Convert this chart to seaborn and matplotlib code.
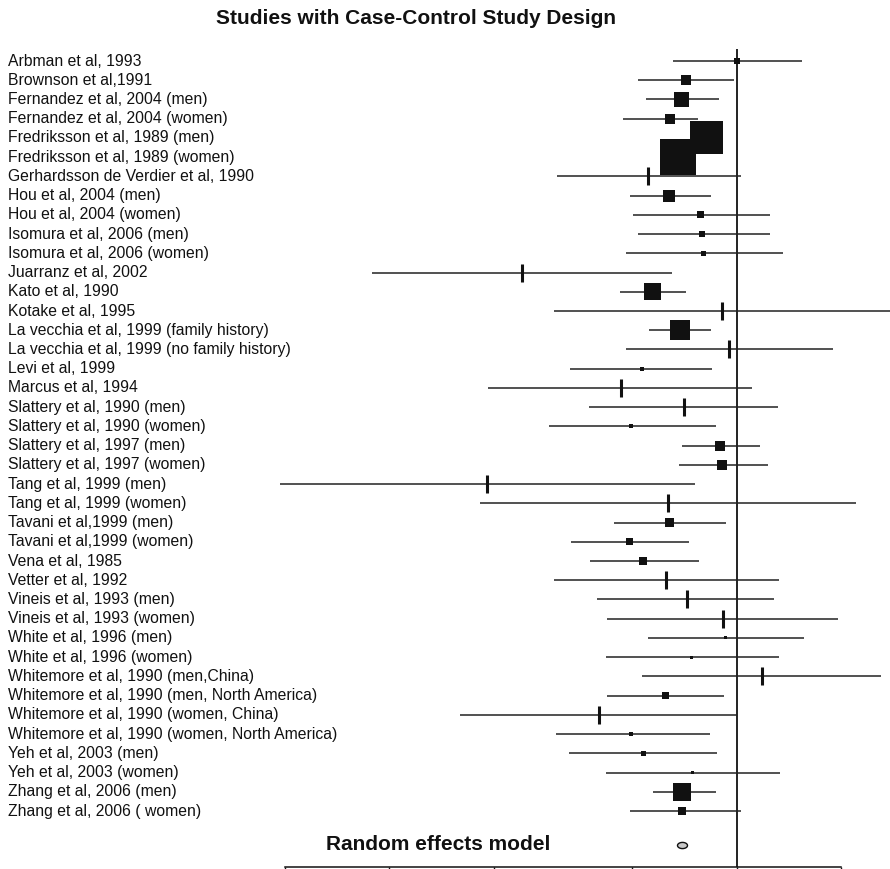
import numpy as np
import pandas as pd
import matplotlib
matplotlib.use("Agg")
from matplotlib import pyplot as plt
from matplotlib import transforms
from matplotlib.path import Path
import seaborn as sns

studies = [
    "Arbman et al, 1993",
    "Brownson et al,1991",
    "Fernandez et al, 2004 (men)",
    "Fernandez et al, 2004 (women)",
    "Fredriksson et al, 1989 (men)",
    "Fredriksson et al, 1989 (women)",
    "Gerhardsson de Verdier et al, 1990",
    "Hou et al, 2004 (men)",
    "Hou et al, 2004 (women)",
    "Isomura et al, 2006 (men)",
    "Isomura et al, 2006 (women)",
    "Juarranz et al, 2002",
    "Kato et al, 1990",
    "Kotake et al, 1995",
    "La vecchia et al, 1999 (family history)",
    "La vecchia et al, 1999 (no family history)",
    "Levi et al, 1999",
    "Marcus et al, 1994",
    "Slattery et al, 1990 (men)",
    "Slattery et al, 1990 (women)",
    "Slattery et al, 1997 (men)",
    "Slattery et al, 1997 (women)",
    "Tang et al, 1999 (men)",
    "Tang et al, 1999 (women)",
    "Tavani et al,1999 (men)",
    "Tavani et al,1999 (women)",
    "Vena et al, 1985",
    "Vetter et al, 1992",
    "Vineis et al, 1993 (men)",
    "Vineis et al, 1993 (women)",
    "White et al, 1996 (men)",
    "White et al, 1996 (women)",
    "Whitemore et al, 1990 (men,China)",
    "Whitemore et al, 1990 (men, North America)",
    "Whitemore et al, 1990 (women, China)",
    "Whitemore et al, 1990 (women, North America)",
    "Yeh et al, 2003 (men)",
    "Yeh et al, 2003 (women)",
    "Zhang et al, 2006 (men)",
    "Zhang et al, 2006 ( women)",
]

odds_ratio = [1.00, 0.715, 0.696, 0.643, 0.817, 0.678, 0.556, 0.639, 0.785, 0.795,
              0.801, 0.241, 0.571, 0.908, 0.687, 0.951, 0.534, 0.465, 0.706, 0.497,
              0.896, 0.908, 0.191, 0.635, 0.639, 0.490, 0.538, 0.626, 0.720, 0.914,
              0.927, 0.740, 1.184, 0.626, 0.402, 0.497, 0.538, 0.749, 0.696, 0.696]
ci_lower = [0.656, 0.520, 0.548, 0.471, 0.77, 0.63, 0.304, 0.493, 0.503, 0.520,
            0.480, 0.089, 0.461, 0.298, 0.560, 0.480, 0.331, 0.192, 0.376, 0.288,
            0.696, 0.683, 0.0484, 0.182, 0.444, 0.333, 0.378, 0.298, 0.396, 0.423,
            0.556, 0.421, 0.534, 0.423, 0.160, 0.302, 0.329, 0.421, 0.575, 0.493]
ci_upper = [1.545, 0.984, 0.890, 0.774, 0.87, 0.73, 1.030, 0.844, 1.249, 1.249,
            1.361, 0.652, 0.715, 2.9, 0.844, 1.897, 0.850, 1.108, 1.317, 0.873,
            1.169, 1.232, 0.759, 2.21, 0.933, 0.730, 0.780, 1.326, 1.282, 1.961,
            1.565, 1.326, 2.609, 0.920, 1.003, 0.839, 0.879, 1.335, 0.873, 1.030]
# relative weight (%) -> box area
weight = [0.36, 1.0, 2.25, 1.0, 10.9, 12.96, 0.2, 1.44, 0.49, 0.36,
          0.25, 0.2, 2.89, 0.2, 4.0, 0.2, 0.16, 0.2, 0.2, 0.16,
          1.0, 1.0, 0.2, 0.2, 0.81, 0.49, 0.64, 0.2, 0.2, 0.2,
          0.09, 0.09, 0.2, 0.49, 0.2, 0.16, 0.25, 0.09, 3.24, 0.64]
# studies drawn with a vertical tick instead of a box
tick_only = [False, False, False, False, False, False, True, False, False, False,
             False, True, False, True, False, True, False, True, True, False,
             False, False, True, True, False, False, False, True, True, True,
             False, False, True, False, True, False, False, False, False, False]

pooled_or = 0.696
axis_ticks = [0.05, 0.1, 0.2, 0.5, 1, 2]

df = pd.DataFrame({"study": studies, "or": odds_ratio, "lo": ci_lower,
                   "hi": ci_upper, "w": weight, "tick": tick_only})
df["row"] = np.arange(len(df))
# box side in pixels = 10*sqrt(w); marker size in pt^2 at dpi 100
df["s"] = (10 * np.sqrt(df["w"]) * 72 / 100) ** 2

sns.set_theme(style="white")
plt.rcParams["font.family"] = ["Liberation Sans", "DejaVu Sans"]

fig = plt.figure(figsize=(8.9, 8.69), dpi=100)
ax = fig.add_axes([285 / 890, 2 / 869, 556 / 890, 818 / 869])
ax.set_xscale("log")
ax.set_xlim(0.05, 2)
ax.set_ylim(41.91, -0.624)

# reference line at OR = 1
ax.axvline(1, color="#111111", lw=1.3, zorder=1)

# confidence intervals
ax.hlines(df["row"], df["lo"], df["hi"], color="#222222", lw=1.1,
          clip_on=False, zorder=2)

boxes = df[~df["tick"]]
smin, smax = boxes["s"].min(), boxes["s"].max()
sns.scatterplot(data=boxes, x="or", y="row", size="s", sizes=(smin, smax),
                size_norm=(smin, smax), marker="s", color="#111111",
                edgecolor="none", linewidth=0, legend=False, ax=ax,
                zorder=3, clip_on=False)

ticks = df[df["tick"]]
ax.plot(ticks["or"], ticks["row"], linestyle="none", marker="|",
        markersize=13, markeredgewidth=2.2, color="#111111", zorder=3)

# pooled estimate, grey ellipse
t = np.linspace(0, 2 * np.pi, 60)
ellipse = Path(np.column_stack([np.cos(t), 0.62 * np.sin(t)]), closed=True)
re_row = len(df) + 0.75
ax.scatter([pooled_or], [re_row], marker=ellipse, s=(10 * 72 / 100) ** 2,
           facecolor="#c8c8c8", edgecolor="#111111", linewidth=1.0, zorder=3)

# study labels on the left
lab_tr = transforms.blended_transform_factory(fig.transFigure, ax.transData)
for _, r in df.iterrows():
    ax.text(8 / 890, r["row"], r["study"], transform=lab_tr, ha="left",
            va="center", fontsize=11.3, color="#111111", clip_on=False)
ax.text(438 / 890, re_row, "Random effects model", transform=lab_tr,
        ha="center", va="center", fontsize=15, fontweight="bold",
        color="#111111", clip_on=False)

fig.text(416 / 890, 1 - 19 / 869, "Studies with Case-Control Study Design",
         ha="center", va="center", fontsize=15, fontweight="bold", color="#111111")

# only the bottom axis is drawn; its labels fall below the picture's edge
for side in ["top", "left", "right"]:
    ax.spines[side].set_visible(False)
ax.spines["bottom"].set_color("#111111")
ax.spines["bottom"].set_linewidth(1.1)
ax.set_xticks(axis_ticks)
ax.minorticks_off()
ax.tick_params(axis="x", direction="out", length=5, width=1, color="#111111",
               bottom=True, labelbottom=False)
ax.set_yticks([])
ax.set_xlabel("")
ax.set_ylabel("")
ax.patch.set_alpha(0)

fig.savefig("out.png", dpi=100)
